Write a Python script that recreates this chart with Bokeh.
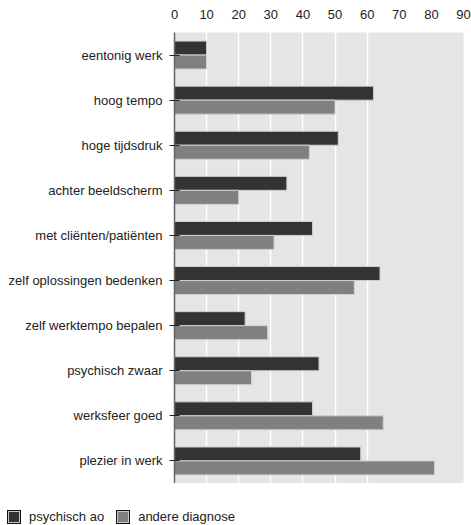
from bokeh.plotting import figure
from bokeh.layouts import column
from bokeh.models import FactorRange, Range1d, FixedTicker, ColumnDataSource, Div
from bokeh.transform import dodge
from bokeh.embed import file_html
from bokeh.resources import INLINE

categories = ["eentonig werk", "hoog tempo", "hoge tijdsdruk", "achter beeldscherm",
              "met cliënten/patiënten", "zelf oplossingen bedenken", "zelf werktempo bepalen",
              "psychisch zwaar", "werksfeer goed", "plezier in werk"]
psychisch_ao = [10, 62, 51, 35, 43, 64, 22, 45, 43, 58]
andere_diagnose = [10, 50, 42, 20, 31, 56, 29, 24, 65, 81]
series_names = ["psychisch ao", "andere diagnose"]
x_ticks = [0, 10, 20, 30, 40, 50, 60, 70, 80, 90]
grid_ticks = [0, 10, 20, 30, 40, 50, 60]

FONT = "Liberation Sans"
FS = "13px"
DARK = "#333333"
GREY = "#808080"
series_colors = [DARK, GREY]

src = ColumnDataSource(dict(cat=categories, a=psychisch_ao, b=andere_diagnose))

p = figure(y_range=FactorRange(factors=list(reversed(categories))),
           x_range=Range1d(0, 90), x_axis_location="above",
           frame_width=289, frame_height=451,
           min_border_left=174, min_border_right=8, min_border_top=32, min_border_bottom=0,
           output_backend="svg", toolbar_location=None)

p.background_fill_color = "#e5e5e5"
p.border_fill_color = "white"
p.outline_line_color = None

p.hbar(y=dodge("cat", 0.155, range=p.y_range), right="a", left=0, height=0.31,
       source=src, fill_color=series_colors[0], line_color="#d0d0d0", line_width=1)
p.hbar(y=dodge("cat", -0.155, range=p.y_range), right="b", left=0, height=0.31,
       source=src, fill_color=series_colors[1], line_color="#d0d0d0", line_width=1)

p.xaxis.ticker = FixedTicker(ticks=x_ticks)
p.xaxis.axis_line_color = None
p.xaxis.major_tick_line_color = None
p.xaxis.minor_tick_line_color = None
p.xaxis.major_label_text_font = FONT
p.xaxis.major_label_text_font_size = FS
p.xaxis.major_label_text_color = "#222222"
p.xaxis.major_label_standoff = 8

p.yaxis.axis_line_color = "#666666"
p.yaxis.axis_line_width = 1.5
p.yaxis.major_tick_line_color = "#222222"
p.yaxis.major_tick_out = 5
p.yaxis.major_tick_in = 5
p.yaxis.major_label_text_font = FONT
p.yaxis.major_label_text_font_size = FS
p.yaxis.major_label_text_color = "#222222"
p.yaxis.major_label_standoff = 7

p.xgrid.ticker = FixedTicker(ticks=grid_ticks)
p.xgrid.grid_line_color = "white"
p.xgrid.grid_line_width = 1.5
p.ygrid.grid_line_color = None

# legend below the chart
parts = []
for i, (name, col) in enumerate(zip(series_names, series_colors)):
    ml = "7px" if i == 0 else "12px"
    parts.append(
        f'<span style="display:inline-block;box-sizing:border-box;width:14px;height:14px;'
        f'margin-left:{ml};background:{col};border:1px solid #111111;'
        f'box-shadow:inset 0 0 0 1px #c8c8c8;"></span>'
        f'<span style="margin-left:8px;">{name}</span>'
    )
legend_html = (f'<div style="display:flex;align-items:center;height:14px;margin-top:27px;'
               f'font-family:\'{FONT}\';font-size:{FS};color:#222222;white-space:nowrap;">'
               + "".join(parts) + '</div>')
legend_div = Div(text=legend_html, width=471, height=42, margin=0)

open("out.html", "w").write(file_html(column(p, legend_div, spacing=0), INLINE))
